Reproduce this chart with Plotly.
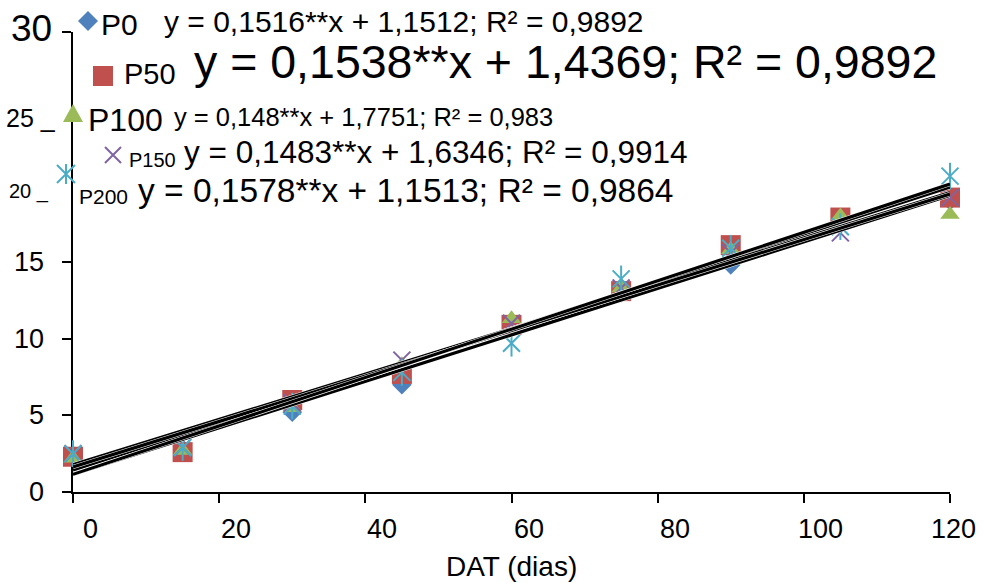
import plotly.graph_objects as go

# ---------------- data ----------------
dat = [0, 15, 30, 45, 60, 75, 90, 105, 120]
p0 = [2.4, 2.8, 5.2, 7.0, 10.8, 13.0, 14.8, 17.5, 19.0]
p50 = [2.3, 2.6, 6.0, 7.7, 10.9, 13.1, 16.1, 17.9, 19.2]
p100 = [2.2, 2.7, 5.5, 8.3, 11.3, 13.3, 15.8, 18.0, 18.1]
p150 = [2.5, 2.9, 5.8, 8.6, 11.0, 13.3, 15.6, 16.9, 19.2]
p200 = [2.5, 2.9, 5.6, 7.8, 9.7, 13.9, 15.9, 17.3, 20.6]

series_names = ["P0", "P50", "P100", "P150", "P200"]
slopes = [0.1516, 0.1538, 0.148, 0.1483, 0.1578]
intercepts = [1.1512, 1.4369, 1.7751, 1.6346, 1.1513]
r2 = [0.9892, 0.9892, 0.983, 0.9914, 0.9864]

x_ticks = [0, 20, 40, 60, 80, 100, 120]
x_tick_labels = ["0", "20", "40", "60", "80", "100", "120"]
y_ticks = [0, 5, 10, 15, 20, 25, 30]
y_tick_labels = ["0", "5", "10", "15", "20 _", "25 _", "30"]
x_title = "DAT (dias)"

# ---------------- geometry ----------------
W, H = 983, 583
L, R, T, B = 73, 950, 32, 492
PW, PH = R - L, B - T
XMAX, YMAX = 120, 30


def px_x(px):
    return (px - L) / PW


def px_y(py):
    return (B - py) / PH


def xval_px(v):
    return L + v / XMAX * PW


def yval_px(v):
    return B - v / YMAX * PH


colors = ["#4F81BD", "#C0504D", "#9BBB59", "#8064A2", "#4BACC6"]
FONT = "Liberation Sans, Arial, sans-serif"

fig = go.Figure()

vals = [p0, p50, p100, p150, p200]
styles = [
    dict(symbol="diamond", size=15, color=colors[0]),
    dict(symbol="square", size=20, color=colors[1]),
    dict(symbol="triangle-up", size=17, color=colors[2]),
    dict(symbol="x-thin", size=17, color=colors[3], line=dict(color=colors[3], width=2)),
    dict(symbol="x-thin", size=17, color=colors[4], line=dict(color=colors[4], width=2)),
]
for name, v, st in zip(series_names, vals, styles):
    fig.add_trace(go.Scatter(x=dat, y=v, mode="markers", name=name, marker=st,
                             cliponaxis=False, showlegend=False))
# vertical stroke of the asterisk marker for P200
fig.add_trace(go.Scatter(x=dat, y=p200, mode="markers", showlegend=False, cliponaxis=False,
                         marker=dict(symbol="line-ns", size=19,
                                     line=dict(color=colors[4], width=2))))

# trend lines from the equations
for s, i in zip(slopes, intercepts):
    xs = [0, 120]
    ys = [s * x + i for x in xs]
    fig.add_trace(go.Scatter(x=xs, y=ys, mode="lines", showlegend=False,
                             line=dict(color="white", width=4.2)))
    fig.add_trace(go.Scatter(x=xs, y=ys, mode="lines", showlegend=False,
                             line=dict(color="black", width=3.2)))

# ---------------- custom legend ----------------
leg_markers = [(88, 21, 10), (103, 76, 10), (73, 114, 10), (113, 155, 8), (66, 174, 9)]
leg_labels = [(100, 24, 30), (123, 74, 29), (87, 120, 32), (128, 160, 20), (78, 196, 21)]
leg_eqs = [(163, 22, 30), (193, 62, 46.5), (173, 117, 25.5), (183, 152, 31.5), (137, 190, 33.5)]


def marker_shapes(k, mx, my, r):
    base = dict(xref="paper", yref="paper", xsizemode="pixel", ysizemode="pixel",
                xanchor=px_x(mx), yanchor=px_y(my), type="path", layer="above")
    c = colors[k]
    if k == 0:
        return [dict(base, path=f"M 0,{r} L {r},0 L 0,{-r} L {-r},0 Z",
                     fillcolor=c, line=dict(width=0))]
    if k == 1:
        return [dict(base, path=f"M {-r},{-r} L {r},{-r} L {r},{r} L {-r},{r} Z",
                     fillcolor=c, line=dict(width=0))]
    if k == 2:
        return [dict(base, path=f"M {-r},{-0.8*r} L {r},{-0.8*r} L 0,{r} Z",
                     fillcolor=c, line=dict(width=0))]
    out = [dict(base, path=f"M {-r},{-r} L {r},{r} M {-r},{r} L {r},{-r}",
                line=dict(color=c, width=2))]
    if k == 4:
        out.append(dict(base, path=f"M 0,{-r-1} L 0,{r+1}", line=dict(color=c, width=2)))
    return out


shapes = []
for k in range(5):
    mx, my, mr = leg_markers[k]
    shapes += marker_shapes(k, mx, my, mr)

annotations = []
for k in range(5):
    lx, ly, ls = leg_labels[k]
    annotations.append(dict(x=px_x(lx), y=px_y(ly), xref="paper", yref="paper",
                            xanchor="left", yanchor="middle", showarrow=False,
                            text=series_names[k], font=dict(size=ls, color="black", family=FONT),
                            borderpad=0))
    ex, ey, es = leg_eqs[k]
    eq = "y = {}**x + {}; R² = {}".format(str(slopes[k]).replace(".", ","),
                                          str(intercepts[k]).replace(".", ","),
                                          str(r2[k]).replace(".", ","))
    annotations.append(dict(x=px_x(ex), y=px_y(ey), xref="paper", yref="paper",
                            xanchor="left", yanchor="middle", showarrow=False,
                            text=eq, font=dict(size=es, color="black", family=FONT),
                            borderpad=0))

# y tick labels (varying sizes as in the original)
y_lab_style = {0: (45, 0, 27), 5: (45, 0, 27), 10: (45, 0, 27), 15: (45, 0, 27),
               20: (50, -6, 20), 25: (57, -9, 25), 30: (53, 4, 37)}
for v, t in zip(y_ticks, y_tick_labels):
    rx, dy, sz = y_lab_style[v]
    annotations.append(dict(x=px_x(rx), y=px_y(yval_px(v) - dy), xref="paper", yref="paper",
                            xanchor="right", yanchor="middle", showarrow=False, text=t,
                            font=dict(size=sz, color="black", family=FONT), borderpad=0))

# x tick labels (shifted right of the tick, as in the original)
for v, t in zip(x_ticks, x_tick_labels):
    cx = min(xval_px(v) + 17, 953)
    annotations.append(dict(x=px_x(cx), y=px_y(529), xref="paper", yref="paper",
                            xanchor="center", yanchor="middle", showarrow=False, text=t,
                            font=dict(size=27, color="black", family=FONT), borderpad=0))

annotations.append(dict(x=px_x(511), y=px_y(566), xref="paper", yref="paper",
                        xanchor="center", yanchor="middle", showarrow=False, text=x_title,
                        font=dict(size=28, color="black", family=FONT), borderpad=0))

fig.update_layout(
    width=W, height=H,
    margin=dict(l=L, r=W - R, t=T, b=H - B),
    paper_bgcolor="white", plot_bgcolor="white",
    showlegend=False,
    annotations=annotations,
    shapes=shapes,
    xaxis=dict(range=[0, XMAX], tickvals=x_ticks, showticklabels=False, ticks="outside",
               ticklen=9, tickwidth=1.5, tickcolor="black", showline=True, linecolor="black",
               linewidth=1.5, showgrid=False, zeroline=False, layer="below traces",
               fixedrange=True),
    yaxis=dict(range=[0, YMAX], tickvals=[0, 5, 10, 15, 30], showticklabels=False,
               ticks="outside", ticklen=9, tickwidth=1.5, tickcolor="black", showline=True,
               linecolor="black", linewidth=1.5, showgrid=False, zeroline=False,
               layer="below traces", fixedrange=True),
)

fig.write_html("out.html", config={"displayModeBar": False},
               post_script="document.body.style.margin='0';")
